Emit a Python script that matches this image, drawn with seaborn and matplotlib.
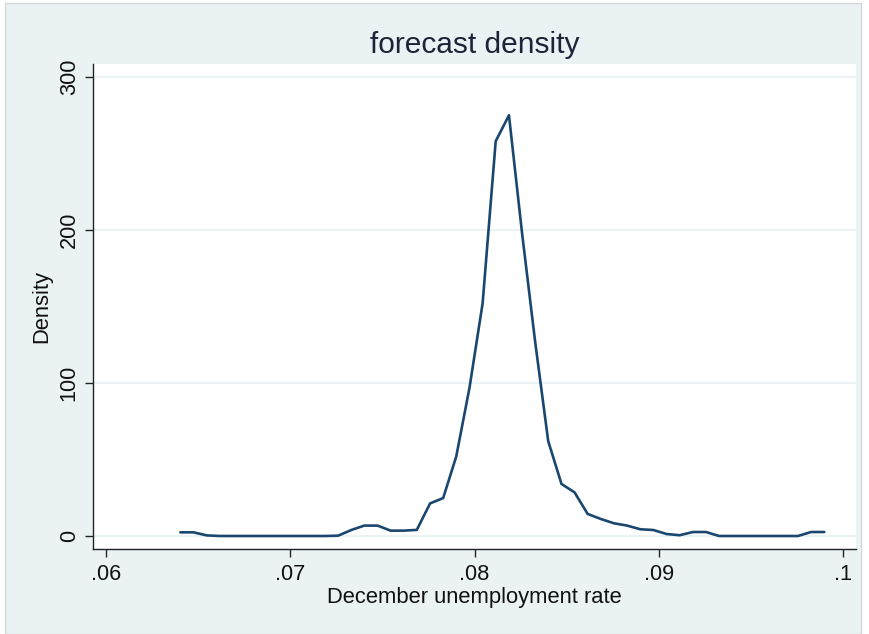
import matplotlib
matplotlib.use("Agg")
import matplotlib.pyplot as plt
import matplotlib.patches as mpatches
import seaborn as sns
import pandas as pd

# Kernel density of the December unemployment-rate forecast
rate = [0.06404, 0.06475, 0.06547, 0.06618, 0.06689, 0.06761, 0.06832, 0.06903,
        0.06974, 0.07046, 0.07117, 0.07188, 0.07260, 0.07331, 0.07402, 0.07474,
        0.07545, 0.07616, 0.07687, 0.07759, 0.07830, 0.07901, 0.07973, 0.08044,
        0.08115, 0.08187, 0.08258, 0.08329, 0.08400, 0.08472, 0.08543, 0.08614,
        0.08686, 0.08757, 0.08828, 0.08900, 0.08971, 0.09042, 0.09113, 0.09185,
        0.09256, 0.09327, 0.09399, 0.09470, 0.09541, 0.09612, 0.09684, 0.09755,
        0.09826, 0.09898]
density = [2.4, 2.4, 0.4, 0, 0, 0, 0, 0,
           0, 0, 0, 0, 0.2, 3.9, 6.8, 6.8,
           3.5, 3.5, 4.0, 21.3, 24.8, 52, 97, 152,
           258, 275, 198, 127, 62, 34, 28.5, 14.4,
           11.1, 8.3, 6.8, 4.4, 3.9, 1.3, 0.5, 2.6,
           2.6, 0, 0, 0, 0, 0, 0, 0,
           2.6, 2.6]

x_ticks = [0.06, 0.07, 0.08, 0.09, 0.1]
x_tick_labels = [".06", ".07", ".08", ".09", ".1"]
y_ticks = [0, 100, 200, 300]
y_tick_labels = ["0", "100", "200", "300"]

df = pd.DataFrame({"rate": rate, "density": density})

sns.set_theme(style="white")
plt.rcParams["font.family"] = ["Liberation Sans", "DejaVu Sans"]

BG = "#EAF2F3"
LINE = "#1A476F"

fig = plt.figure(figsize=(8.69, 6.34), dpi=100, facecolor="white")
# outer graph region, kept behind the axes
fig.patches.append(mpatches.Rectangle((5 / 869, 0), (861 - 5) / 869, 1 - 3 / 634,
                                      transform=fig.transFigure, facecolor=BG,
                                      edgecolor="#D4D8DA", linewidth=1.0, zorder=-5))

ax = fig.add_axes([93 / 869, 1 - 549 / 634, (856 - 93) / 869, (549 - 64) / 634])
ax.set_facecolor("white")

for yv in y_ticks:
    ax.axhline(yv, color=BG, linewidth=1.5, zorder=1)

sns.lineplot(data=df, x="rate", y="density", ax=ax, color=LINE,
             linewidth=1.9, zorder=3)

ax.set_xlim(0.0593, 0.1007)
ax.set_ylim(-8.5, 308.5)

ax.set_xticks(x_ticks)
ax.set_xticklabels(x_tick_labels)
ax.set_yticks(y_ticks)
ax.set_yticklabels(y_tick_labels, rotation=90, va="center")

ax.tick_params(axis="both", which="major", direction="out", length=6,
               width=1.0, color="#222222", labelsize=15.7, labelcolor="#111111",
               bottom=True, left=True)
ax.tick_params(axis="y", pad=3.5)
ax.tick_params(axis="x", pad=5)

for side in ["top", "right"]:
    ax.spines[side].set_visible(False)
for side in ["left", "bottom"]:
    ax.spines[side].set_visible(True)
    ax.spines[side].set_color("#222222")
    ax.spines[side].set_linewidth(1.0)

ax.set_xlabel("December unemployment rate", fontsize=15.8, color="#111111", labelpad=1)
ax.set_ylabel("Density", fontsize=15.8, color="#111111", labelpad=5)
ax.set_title("forecast density", fontsize=21.5, color="#1C2438", pad=8)

fig.savefig("out.png", dpi=100, facecolor=fig.get_facecolor())
